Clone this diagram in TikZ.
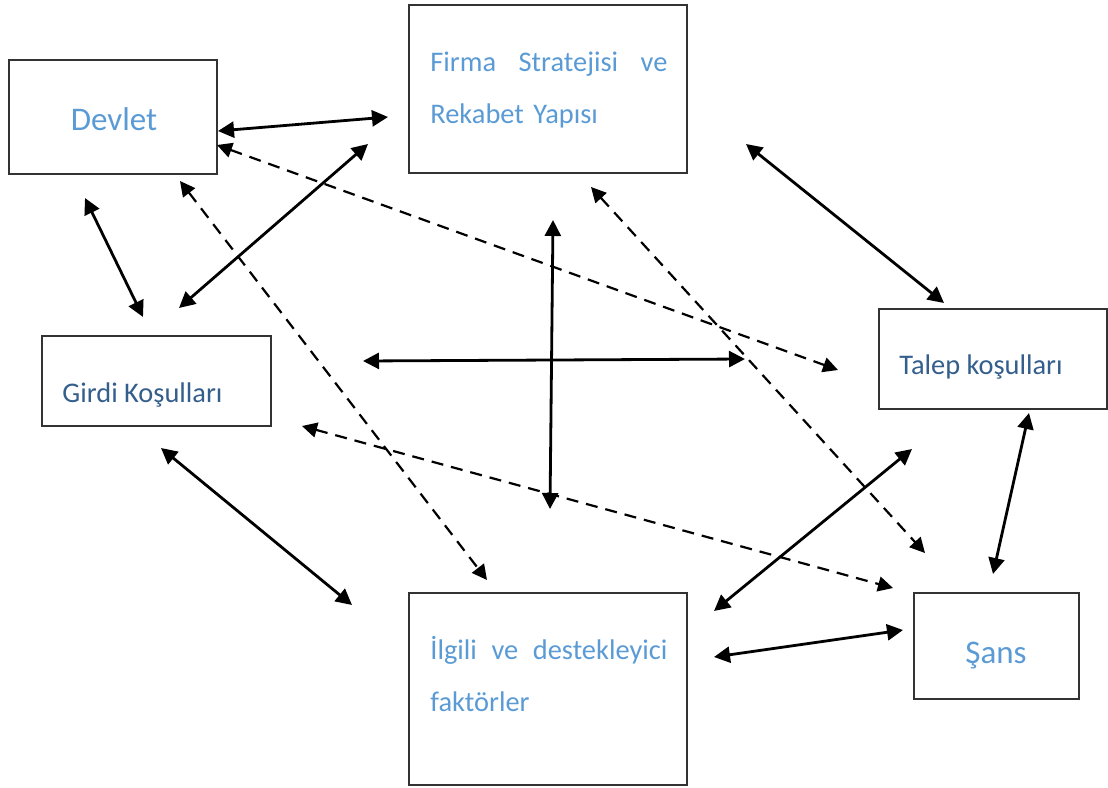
\documentclass[tikz,border=0pt]{standalone}
\usepackage{fontspec}
\setmainfont{Carlito}
\usepackage{tikz}
\usetikzlibrary{arrows.meta, fit, positioning}

\definecolor{lightblue}{RGB}{91,155,213}
\definecolor{darkblue}{RGB}{52,94,140}

\tikzset{
  box/.style={draw=black!80, line width=0.75pt, inner sep=0pt},
  bigtext/.style={font=\fontsize{16.5}{20}\selectfont, text=lightblue, inner sep=0pt, anchor=base},
  midtext/.style={font=\fontsize{14.2}{26}\selectfont, text=lightblue, inner sep=0pt, anchor=base west, text width=118.5pt, align=left},
  smalltext/.style={font=\fontsize{14.2}{17}\selectfont, text=darkblue, inner sep=0pt, anchor=base west},
  link/.style={{Triangle[length=8pt,width=8pt]}-{Triangle[length=8pt,width=8pt]}, line width=1.4pt},
  dlink/.style={{Triangle[length=7.5pt,width=7.5pt]}-{Triangle[length=7.5pt,width=7.5pt]}, line width=1.1pt, dash pattern=on 6pt off 4pt}
}

\begin{document}
\begin{tikzpicture}[x=0.5pt, y=-0.5pt]
  \useasboundingbox[fill=white] (0,0) rectangle (1108,787);

  % boxes
  \node[box, fit={(9,60) (217,174)}] (devlet) {};
  \node[box, fit={(409,5) (687,173)}] (firma) {};
  \node[box, fit={(42,336) (271,426)}] (girdi) {};
  \node[box, fit={(879,309) (1107,409)}] (talep) {};
  \node[box, fit={(409,593) (687,785)}] (ilgili) {};
  \node[box, fit={(914,593) (1079,699)}] (sans) {};

  % texts
  \node[bigtext] (devlettext) at (114,130) {Devlet};
  \node[bigtext] (sanstext) at (996,663) {Şans};
  \node[midtext] (firmatext) at (430,71) {Firma\hfill Stratejisi\hfill ve\\Rekabet Yapısı};
  \node[midtext] (ilgilitext) at (430,659) {İlgili\hfill ve\hfill destekleyici\\faktörler};
  \node[smalltext] (girditext) at (62,402) {Girdi Koşulları};
  \node[smalltext] (taleptext) at (899,374) {Talep koşulları};

  % arrow ends
  \coordinate (d1) at (218,131);   \coordinate (f1) at (388,117);
  \coordinate (d2) at (85,198);    \coordinate (g1) at (143,317);
  \coordinate (g2) at (179,308);   \coordinate (f2) at (368,144);
  \coordinate (f3) at (746,144);   \coordinate (t1) at (944,303);
  \coordinate (h1) at (363,361);   \coordinate (h2) at (745,359);
  \coordinate (v1) at (553,220);   \coordinate (v2) at (550,509);
  \coordinate (g3) at (161,448);   \coordinate (i1) at (352,605);
  \coordinate (i2) at (714,611);   \coordinate (t2) at (912,449);
  \coordinate (i3) at (714,657);   \coordinate (s1) at (903,630);
  \coordinate (t3) at (1029,413);  \coordinate (s2) at (993,574);
  \coordinate (d3) at (217,145);   \coordinate (t4) at (838,370);
  \coordinate (d4) at (180,181);   \coordinate (i4) at (487,580);
  \coordinate (f4) at (591,187);   \coordinate (s3) at (925,553);
  \coordinate (g4) at (302,426);   \coordinate (s4) at (893,588);

  % solid links
  \draw[link] (d1) -- (f1);
  \draw[link] (d2) -- (g1);
  \draw[link] (g2) -- (f2);
  \draw[link] (f3) -- (t1);
  \draw[link] (h1) -- (h2);
  \draw[link] (v1) -- (v2);
  \draw[link] (g3) -- (i1);
  \draw[link] (i2) -- (t2);
  \draw[link] (i3) -- (s1);
  \draw[link] (t3) -- (s2);

  % dashed links
  \draw[dlink] (d3) -- (t4);
  \draw[dlink] (d4) -- (i4);
  \draw[dlink] (f4) -- (s3);
  \draw[dlink] (g4) -- (s4);
\end{tikzpicture}
\end{document}
